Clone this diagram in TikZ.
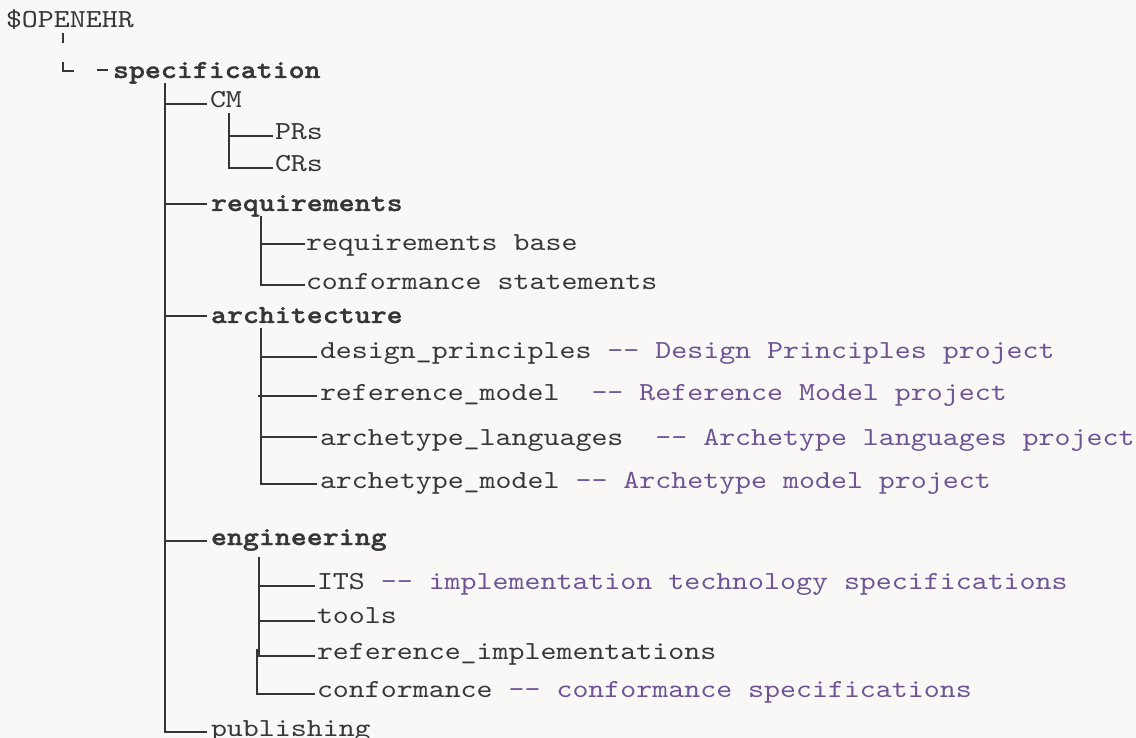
\documentclass[tikz,border=0pt]{standalone}
\usepackage{fontspec}
\setmonofont{lmmono10-regular.otf}[BoldFont=lmmonolt10-bold.otf, BoldFeatures={FakeBold=1.2}, FakeStretch=1.17]
\definecolor{bg}{HTML}{F9F8F7}
\definecolor{ink}{HTML}{363636}
\definecolor{note}{HTML}{6E5494}
\newcommand\ddash{-\kern0pt-}
\begin{document}
\begin{tikzpicture}[x=1pt,y=-1pt,
  txt/.style={anchor=base west,inner sep=0pt,outer sep=0pt,text=ink,font=\ttfamily\fontsize{26}{30}\selectfont},
  bld/.style={txt,font=\ttfamily\bfseries\fontsize{26}{30}\selectfont},
  ln/.style={draw=ink,line width=2.8pt},
  glyphln/.style={draw=ink,line width=1.6pt}]
\path[use as bounding box, fill=bg] (0,0) rectangle (1136,738);
% texts
\node[txt] (root) at (6,28) {\$OPENEHR};
\node[bld] (spec) at (113,78) {specification};
\node[txt] (cm) at (210,108) {CM};
\node[txt] (prs) at (275,140) {PRs};
\node[txt] (crs) at (275,172) {CRs};
\node[bld] (req) at (211,211) {requirements};
\node[txt] (reqbase) at (306,251) {requirements base};
\node[txt] (confst) at (306,290) {conformance statements};
\node[bld] (arch) at (211,323) {architecture};
\node[txt] (dp) at (320,358) {design\_principles \textcolor{note}{\ddash{} Design Principles project}};
\node[txt] (rm) at (320,400) {reference\_model~~\textcolor{note}{\ddash{} Reference Model project}};
\node[txt] (al) at (320,445) {archetype\_languages~~\textcolor{note}{\ddash{} Archetype languages project}};
\node[txt] (am) at (320,488) {archetype\_model \textcolor{note}{\ddash{} Archetype model project}};
\node[bld] (eng) at (211,545) {engineering};
\node[txt] (its) at (317,589) {ITS \textcolor{note}{\ddash{} implementation technology specifications}};
\node[txt] (tools) at (317,623) {tools};
\node[txt] (refimpl) at (317,659) {reference\_implementations};
\node[txt] (conf) at (317,697) {conformance \textcolor{note}{\ddash{} conformance specifications}};
\node[txt] (pub) at (211,736) {publishing};
% glyph marks under root
\coordinate (g1a) at (63,33); \coordinate (g1b) at (63,43);
\coordinate (g2a) at (63,62); \coordinate (g2b) at (74,71);
\coordinate (g3a) at (97,70); \coordinate (g3b) at (108,70);
\draw[glyphln] (g1a) -- (g1b);
\draw[glyphln] (g2a) |- (g2b);
\draw[glyphln] (g3a) -- (g3b);
% main branch
\coordinate (j0) at (165,83);
\coordinate (e-cm) at (207,104);
\coordinate (e-req) at (207,204);
\coordinate (e-arch) at (207,316);
\coordinate (e-eng) at (207,541);
\coordinate (e-pub) at (207,732);
\draw[ln] (j0) |- (e-pub);
\draw[ln] (j0 |- e-cm) -- (e-cm);
\draw[ln] (j0 |- e-req) -- (e-req);
\draw[ln] (j0 |- e-arch) -- (e-arch);
\draw[ln] (j0 |- e-eng) -- (e-eng);
% CM
\coordinate (j1) at (229,113);
\coordinate (e-prs) at (273,136);
\coordinate (e-crs) at (273,168);
\draw[ln] (j1) |- (e-crs);
\draw[ln] (j1 |- e-prs) -- (e-prs);
% requirements
\coordinate (j2) at (261,216);
\coordinate (e-rb) at (305,244);
\coordinate (e-cs) at (305,285);
\draw[ln] (j2) |- (e-cs);
\draw[ln] (j2 |- e-rb) -- (e-rb);
% architecture
\coordinate (j3) at (261,328);
\coordinate (e-dp) at (317,357);
\coordinate (e-rm) at (317,396);
\coordinate (e-al) at (317,437);
\coordinate (e-am) at (317,484);
\draw[ln] (j3) |- (e-am);
\draw[ln] (j3 |- e-dp) -- (e-dp);
\draw[ln] ([xshift=-3pt]j3 |- e-rm) -- (e-rm);
\draw[ln] (j3 |- e-al) -- (e-al);
% engineering
\coordinate (j4) at (259,557);
\coordinate (j4b) at (257,649);
\coordinate (e-its) at (315,586);
\coordinate (e-tools) at (315,621);
\coordinate (e-ri) at (315,656);
\coordinate (e-conf) at (315,694);
\draw[ln] (j4) -- (j4 |- e-ri);
\draw[ln] (j4b) |- (e-conf);
\draw[ln] (j4 |- e-its) -- (e-its);
\draw[ln] (j4 |- e-tools) -- (e-tools);
\draw[ln] (j4b |- e-ri) -- (e-ri);
\end{tikzpicture}
\end{document}
